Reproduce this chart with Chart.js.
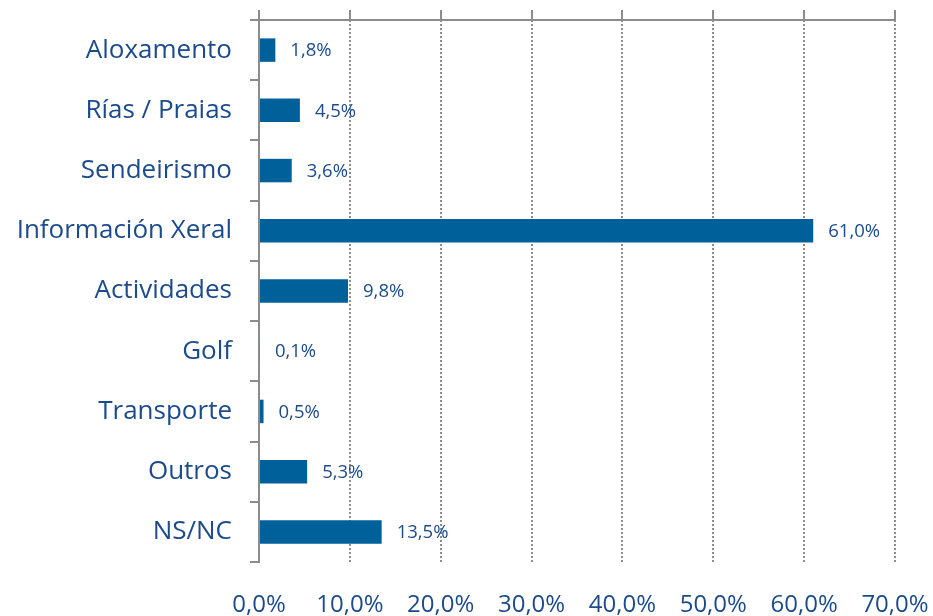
<!DOCTYPE html>
<html><head><meta charset="utf-8">
<script src="https://cdn.jsdelivr.net/npm/chart.js@4/dist/chart.umd.min.js"></script>
<style>html,body{margin:0;padding:0;background:#fff}#wrap{width:933px;height:616px}</style>
</head><body><div id="wrap"><canvas id="c" width="933" height="616"></canvas></div>
<script>
const categories = ["Aloxamento","Rías / Praias","Sendeirismo","Información Xeral","Actividades","Golf","Transporte","Outros","NS/NC"];
const values = [1.8,4.5,3.6,61.0,9.8,0.1,0.5,5.3,13.5];
const tickMin = 0, tickMax = 70, tickStep = 10;

const TEXT = '#1c4b8c', BAR = '#00619a', GRID = '#8c8c8c';
const FONT = "'Open Sans', sans-serif";
const fmt = v => v.toFixed(1).replace('.', ',') + '%';

const labelPlugin = {
  id: 'vals',
  afterDatasetsDraw(chart) {
    const ctx = chart.ctx, meta = chart.getDatasetMeta(0);
    ctx.save();
    ctx.fillStyle = TEXT;
    ctx.font = "18.5px " + FONT;
    ctx.textAlign = 'left'; ctx.textBaseline = 'middle';
    meta.data.forEach((bar, i) => {
      ctx.fillText(fmt(values[i]), bar.x + 15, bar.y + 1);
    });
    ctx.restore();
  }
};

const noPad = s => { s.paddingLeft = 0; s.paddingRight = 0; s.paddingTop = 0; s.paddingBottom = 0; };

new Chart(document.getElementById('c'), {
  type: 'bar',
  data: { labels: categories, datasets: [{ data: values, backgroundColor: BAR, barPercentage: 0.78, categoryPercentage: 0.5 }] },
  options: {
    indexAxis: 'y', responsive: false, animation: false,
    layout: { padding: { top: 10, left: 0, right: 38, bottom: 0 } },
    plugins: { legend: { display: false }, tooltip: { enabled: false } },
    scales: {
      x: {
        position: 'bottom', min: tickMin, max: tickMax,
        ticks: { stepSize: tickStep, color: TEXT, font: { size: 24, family: FONT }, padding: 29, callback: v => fmt(v) },
        grid: { color: c => c.index === 0 ? 'rgba(0,0,0,0)' : GRID, lineWidth: 2, drawTicks: false },
        border: { display: false, dash: [2, 2] },
        afterFit: s => { s.height = 54; noPad(s); }
      },
      x2: {
        position: 'top', min: tickMin, max: tickMax, axis: 'x',
        ticks: { display: false, stepSize: tickStep },
        grid: { drawOnChartArea: false, color: GRID, lineWidth: 2, tickLength: 10 },
        border: { display: true, color: GRID, width: 2 },
        afterFit: s => { s.height = 10; noPad(s); }
      },
      y: {
        ticks: { color: TEXT, font: { size: 26, family: FONT }, padding: 18 },
        grid: { drawOnChartArea: false, offset: true, color: GRID, lineWidth: 2, tickLength: 9 },
        border: { display: true, color: GRID, width: 2 },
        afterFit: s => { s.width = 259; noPad(s); }
      }
    }
  },
  plugins: [labelPlugin]
});
</script></body></html>
